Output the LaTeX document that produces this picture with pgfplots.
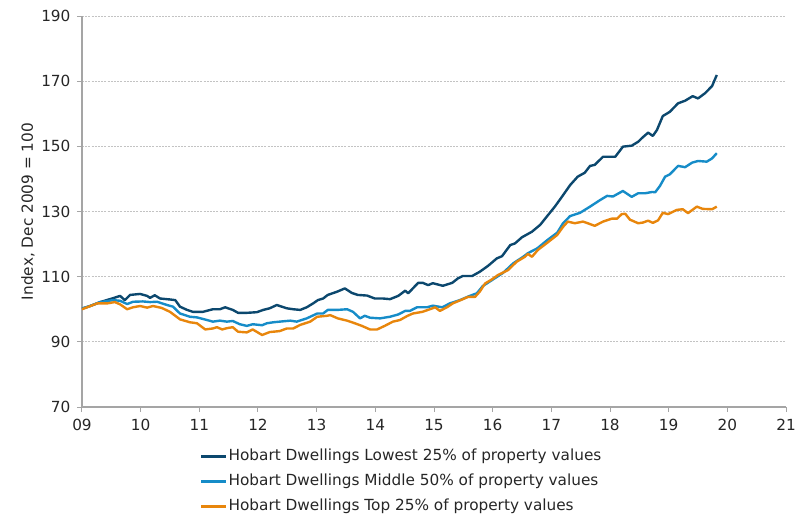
\documentclass[border=0pt]{standalone}
\usepackage{pgfplots}
\usepackage{pgfplotstable}
\pgfplotsset{compat=1.18}
\usepackage{fontspec}
\setmainfont{DejaVu Sans}
\definecolor{cLow}{RGB}{12,72,110}
\definecolor{cMid}{RGB}{22,140,200}
\definecolor{cTop}{RGB}{232,134,12}
\definecolor{gridc}{RGB}{195,195,195}
\definecolor{axc}{RGB}{165,165,165}

\pgfplotstableread{
x y
9.00 100.2
9.14 101.0
9.31 102.2
9.53 103.4
9.65 104.1
9.73 102.8
9.82 104.4
9.99 104.7
10.11 104.1
10.16 103.5
10.24 104.3
10.33 103.3
10.50 103.0
10.59 102.8
10.67 100.8
10.79 99.8
10.89 99.2
11.06 99.2
11.23 100.0
11.35 100.0
11.44 100.6
11.57 99.8
11.66 98.9
11.81 98.9
11.98 99.1
12.09 99.8
12.20 100.3
12.32 101.3
12.37 101.0
12.49 100.3
12.60 100.0
12.72 99.8
12.83 100.6
12.94 101.8
13.02 102.8
13.11 103.3
13.19 104.4
13.35 105.4
13.48 106.4
13.60 105.0
13.70 104.4
13.86 104.2
13.99 103.3
14.13 103.3
14.25 103.1
14.39 104.1
14.51 105.7
14.56 104.9
14.73 108.1
14.81 108.1
14.90 107.4
14.98 108.0
15.15 107.2
15.31 108.1
15.41 109.5
15.49 110.2
15.65 110.2
15.78 111.5
15.92 113.3
16.07 115.6
16.16 116.3
16.30 119.7
16.38 120.2
16.50 122.1
16.67 123.8
16.81 125.9
16.93 128.6
17.06 131.5
17.18 134.5
17.32 138.1
17.45 140.7
17.57 141.9
17.66 144.0
17.74 144.3
17.88 146.8
18.09 146.8
18.22 149.9
18.37 150.2
18.48 151.4
18.56 152.8
18.65 154.2
18.73 153.2
18.80 155.0
18.90 159.3
19.02 160.6
19.16 163.2
19.28 164.0
19.41 165.4
19.50 164.7
19.62 166.3
19.74 168.5
19.82 171.9
}\lowtab

\pgfplotstableread{
x y
9.00 100.2
9.14 101.0
9.31 102.2
9.53 102.8
9.65 102.6
9.77 101.6
9.87 102.3
10.04 102.4
10.16 102.2
10.28 102.3
10.45 101.3
10.55 100.8
10.67 98.7
10.84 97.7
10.96 97.5
11.13 96.7
11.23 96.2
11.35 96.5
11.47 96.2
11.57 96.4
11.69 95.4
11.81 94.9
11.91 95.4
12.07 95.1
12.15 95.7
12.26 96.0
12.37 96.2
12.55 96.5
12.66 96.2
12.83 97.2
13.01 98.7
13.11 98.7
13.19 99.8
13.35 99.8
13.52 100.0
13.62 99.2
13.74 97.2
13.82 98.0
13.91 97.4
14.08 97.2
14.25 97.7
14.39 98.4
14.51 99.5
14.59 99.5
14.71 100.6
14.88 100.6
14.98 101.1
15.14 100.6
15.27 101.8
15.44 102.8
15.61 104.1
15.73 104.9
15.83 107.1
16.01 109.2
16.18 111.2
16.35 114.1
16.52 116.1
16.60 117.2
16.76 118.7
16.93 121.2
17.10 123.5
17.20 126.4
17.32 128.6
17.49 129.6
17.66 131.5
17.83 133.5
17.95 134.8
18.05 134.6
18.22 136.3
18.37 134.5
18.48 135.6
18.60 135.6
18.72 136.0
18.77 135.9
18.85 137.8
18.94 140.7
19.02 141.4
19.16 144.0
19.28 143.6
19.40 145.0
19.50 145.5
19.65 145.3
19.74 146.3
19.82 147.9
}\midtab

\pgfplotstableread{
x y
9.00 100.0
9.26 101.8
9.43 101.8
9.56 102.2
9.65 101.5
9.77 100.0
9.87 100.6
9.99 101.0
10.11 100.5
10.21 101.0
10.36 100.4
10.50 99.2
10.67 96.9
10.84 96.0
10.96 95.7
11.10 93.8
11.23 94.1
11.30 94.5
11.39 93.8
11.47 94.2
11.57 94.5
11.66 93.1
11.81 92.9
11.91 93.8
12.07 92.1
12.20 93.0
12.37 93.3
12.49 94.1
12.60 94.1
12.72 95.2
12.89 96.2
13.01 97.7
13.18 98.0
13.23 98.2
13.36 97.2
13.52 96.5
13.65 95.7
13.77 94.9
13.91 93.8
14.03 93.8
14.16 94.9
14.30 96.2
14.42 96.7
14.54 97.9
14.64 98.7
14.80 99.2
14.93 100.0
15.02 100.6
15.10 99.5
15.22 100.6
15.32 101.8
15.48 103.0
15.58 103.8
15.70 103.8
15.78 105.4
15.87 107.9
15.99 109.2
16.09 110.5
16.26 112.0
16.41 114.6
16.55 116.1
16.60 117.0
16.67 116.1
16.77 118.2
16.93 120.4
17.10 122.8
17.20 125.3
17.28 126.9
17.40 126.4
17.54 126.9
17.62 126.4
17.74 125.6
17.88 126.9
18.03 127.8
18.12 127.8
18.20 129.2
18.26 129.3
18.34 127.5
18.48 126.4
18.56 126.6
18.65 127.2
18.73 126.5
18.82 127.3
18.90 129.6
18.99 129.2
19.14 130.5
19.24 130.7
19.33 129.5
19.48 131.5
19.58 130.8
19.74 130.7
19.82 131.5
}\toptab

\begin{document}
\begin{tikzpicture}
\begin{axis}[
  name=ax,
  scale only axis,
  width=704pt, height=391pt,
  xmin=9, xmax=21, ymin=70, ymax=190,
  axis x line*=bottom, axis y line*=left,
  axis line style={axc, line width=1.3pt},
  xtick={9,10,...,21},
  xticklabels={09,10,11,12,13,14,15,16,17,18,19,20,21},
  ytick={70,90,...,190},
  tick align=outside,
  major tick length=5pt,
  tick style={axc, line width=1pt},
  ymajorgrids,
  grid style={gridc, dash pattern=on 2pt off 1.2pt, line width=0.7pt},
  /pgf/number format/assume math mode=true,
  ticklabel style={font=\fontsize{15.3}{17}\selectfont, text=black!85},
  yticklabel style={xshift=-3pt},
  xticklabel style={yshift=-4pt},
  ylabel={Index, Dec 2009 = 100},
  ylabel style={font=\fontsize{15.3}{17}\selectfont, text=black!85, at={(axis description cs:-0.0767,0.5)}, anchor=center},
  legend style={draw=none, fill=none, at={(axis description cs:0.1676,-0.104)}, anchor=north west,
    inner sep=0pt, row sep=8pt, font=\fontsize{15.3}{17}\selectfont,
    nodes={text height=11.5pt, text depth=3.5pt, inner sep=1pt, text=black!85}},
  legend cell align=left,
  legend image code/.code={\draw[#1] (0pt,0pt) -- (25pt,0pt);},
  every axis plot/.append style={line width=2.4pt, line join=round},
]
\addplot[cLow] table {\lowtab};
\addlegendentry{Hobart Dwellings Lowest 25\% of property values}
\addplot[cMid] table {\midtab};
\addlegendentry{Hobart Dwellings Middle 50\% of property values}
\addplot[cTop] table {\toptab};
\addlegendentry{Hobart Dwellings Top 25\% of property values}
\end{axis}
\path[use as bounding box] ([xshift=-82pt,yshift=-108pt]ax.south west) rectangle ([xshift=20pt,yshift=16pt]ax.north east);
\end{tikzpicture}
\end{document}
